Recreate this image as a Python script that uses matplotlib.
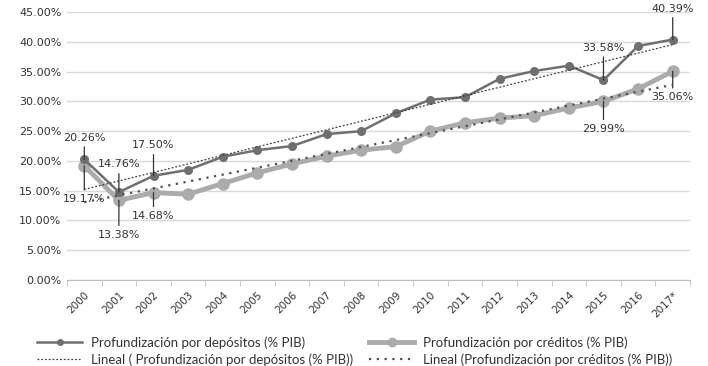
import numpy as np
import matplotlib.pyplot as plt
from matplotlib.lines import Line2D

years = ['2000', '2001', '2002', '2003', '2004', '2005', '2006', '2007', '2008',
         '2009', '2010', '2011', '2012', '2013', '2014', '2015', '2016', '2017*']
depositos = [20.26, 14.76, 17.50, 18.5, 20.7, 21.8, 22.5, 24.5, 25.0,
             28.0, 30.3, 30.7, 33.8, 35.1, 36.0, 33.58, 39.3, 40.39]
creditos = [19.17, 13.38, 14.68, 14.4, 16.2, 18.0, 19.5, 20.8, 21.8,
            22.4, 25.0, 26.4, 27.2, 27.6, 28.9, 29.99, 32.1, 35.06]

# labelled points: (index, text position y in data units)
dep_labels = [(0, 23.9), (1, 19.4), (2, 22.6), (15, 39.0), (17, 45.6)]
cred_labels = [(0, 13.6), (1, 7.6), (2, 10.8), (15, 25.4), (17, 30.7)]

dark = '#6f6f6f'
light = '#ababab'
label_font = ['DejaVu Sans']
legend_font = ['Lato', 'DejaVu Sans']

fig = plt.figure(figsize=(7.08, 3.66), dpi=100)
ax = fig.add_axes([0.0946, 0.235, 0.88, 0.732])

x = np.arange(len(years))

# trend lines
dep_fit = np.polyval(np.polyfit(x, depositos, 1), x)
cred_fit = np.polyval(np.polyfit(x, creditos, 1), x)

ax.plot(x, creditos, color=light, lw=3.5, marker='o', ms=8, zorder=3)
ax.plot(x, depositos, color=dark, lw=1.8, marker='o', ms=5.5, zorder=4)
ax.plot(x, dep_fit, color='#404040', lw=0.9, ls=(0, (1.5, 1.5)), zorder=5)
ax.plot(x, cred_fit, color='#505050', lw=1.6, ls=(0, (1, 2.5)), zorder=5)

for i, ty in dep_labels:
    ax.annotate(f'{depositos[i]:.2f}%', xy=(x[i], depositos[i]), xytext=(x[i], ty),
                ha='center', va='center', fontsize=8, color='#333333', family=label_font,
                arrowprops=dict(arrowstyle='-', color='#333333', lw=0.9, shrinkA=1, shrinkB=0),
                zorder=6)
for i, ty in cred_labels:
    ax.annotate(f'{creditos[i]:.2f}%', xy=(x[i], creditos[i]), xytext=(x[i], ty),
                ha='center', va='center', fontsize=8, color='#333333', family=label_font,
                arrowprops=dict(arrowstyle='-', color='#333333', lw=0.9, shrinkA=1, shrinkB=0),
                zorder=6)

ax.set_xlim(-0.5, len(years) - 0.5)
ax.set_ylim(0, 45)
ax.set_yticks(np.arange(0, 46, 5))
ax.set_yticklabels([f'{v:.2f}%' for v in np.arange(0, 46, 5)], fontsize=8, color='#333333')
ax.yaxis.grid(True, color='#d9d9d9', lw=1)
ax.set_axisbelow(True)
ax.tick_params(axis='y', length=0, pad=4)

ax.set_xticks(x)
ax.set_xticklabels(years, rotation=45, ha='right', rotation_mode='anchor',
                   fontsize=7.5, color='#333333')
ax.set_xticks(np.arange(-0.5, len(years)), minor=True)
ax.tick_params(axis='x', which='major', length=0, pad=7)
ax.tick_params(axis='x', which='minor', length=4, color='#bfbfbf')

for s in ['top', 'right', 'left']:
    ax.spines[s].set_visible(False)
ax.spines['bottom'].set_color('#bfbfbf')

handles = [
    Line2D([], [], color=dark, lw=1.8, marker='o', ms=4),
    Line2D([], [], color='#404040', lw=0.9, ls=(0, (1.5, 1.5))),
    Line2D([], [], color=light, lw=3.5, marker='o', ms=6),
    Line2D([], [], color='#505050', lw=1.6, ls=(0, (1, 2.5))),
]
names = ['Profundización por depósitos (% PIB)',
         'Lineal ( Profundización por depósitos (% PIB))',
         'Profundización por créditos (% PIB)',
         'Lineal (Profundización por créditos (% PIB))']
fig.legend(handles, names, ncol=2, loc='upper left', bbox_to_anchor=(0.0435, 0.10),
           frameon=False, prop={'family': legend_font, 'size': 9.5},
           handlelength=3.4, handletextpad=0.65, columnspacing=1.25,
           labelspacing=0.35, borderpad=0, labelcolor='#333333')

fig.savefig('out.png', dpi=100)
